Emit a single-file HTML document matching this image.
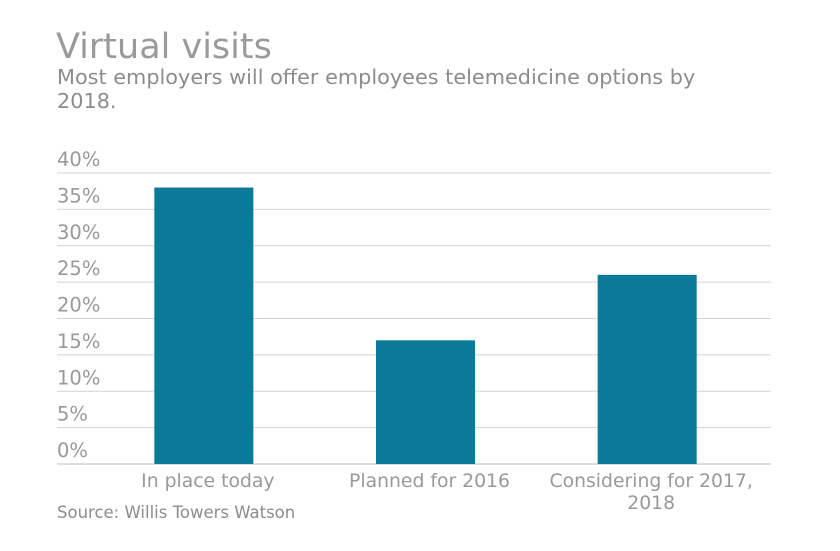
<!DOCTYPE html>
<html><head><meta charset="utf-8"><style>
body{margin:0;background:#fff;width:840px;height:547px;overflow:hidden;font-family:"DejaVu Sans","Liberation Sans",sans-serif;}
svg text{font-family:"DejaVu Sans","Liberation Sans",sans-serif;}
</style></head><body>
<svg width="840" height="547">
<text x="56" y="58" font-size="35" fill="#9a9a9a">Virtual visits</text>
<text x="57" y="84" font-size="20.8" fill="#8c8c8c">Most employers will offer employees telemedicine options by</text>
<text x="57" y="108" font-size="20.8" fill="#8c8c8c">2018.</text>
<g id="grid"></g><g id="bars"></g><g id="xl"></g>
<text x="57" y="518" font-size="16.5" fill="#8c8c8c">Source: Willis Towers Watson</text>
</svg>
<script>
const categories=[["In place today"],["Planned for 2016"],["Considering for 2017,","2018"]];
const values=[38,17,26];
const ticks=[0,5,10,15,20,25,30,35,40];
const tickLabels=["0%","5%","10%","15%","20%","25%","30%","35%","40%"];
const NS="http://www.w3.org/2000/svg";
const x0=57,x1=771,y0=464,y1=173,max=40;
const bx0=93,bx1=758;
const y=v=>y0-(v/max)*(y0-y1);
const band=(bx1-bx0)/categories.length;
const mk=(t,a,p)=>{const e=document.createElementNS(NS,t);for(const k in a)e.setAttribute(k,a[k]);p.appendChild(e);return e;};
const g=document.getElementById('grid'),b=document.getElementById('bars'),xl=document.getElementById('xl');
ticks.forEach((t,i)=>{
 const l=mk('line',{x1:x0,x2:x1,y1:y(t),y2:y(t),stroke:t===0?'#bdbdbd':'#d4d4d4','stroke-width':1},g);
 
 
 const tx=mk('text',{x:57,y:y(t)-7,'font-size':19.5,fill:'#999'},g);
 tx.textContent=tickLabels[i];
 
 
});
values.forEach((v,i)=>{
 const cx=bx0+band*(i+0.5),w=99;
 const r=mk('rect',{x:cx-w/2,y:y(v),width:w,height:y0-y(v),fill:'#0b7998'},b);
 
 
 categories[i].forEach((s,j)=>{
  const t=mk('text',{x:cx+4,y:487+j*22,'font-size':18.8,fill:'#999','text-anchor':'middle'},xl);
  t.textContent=s;
  
  
 });
});
</script>
</body></html>
